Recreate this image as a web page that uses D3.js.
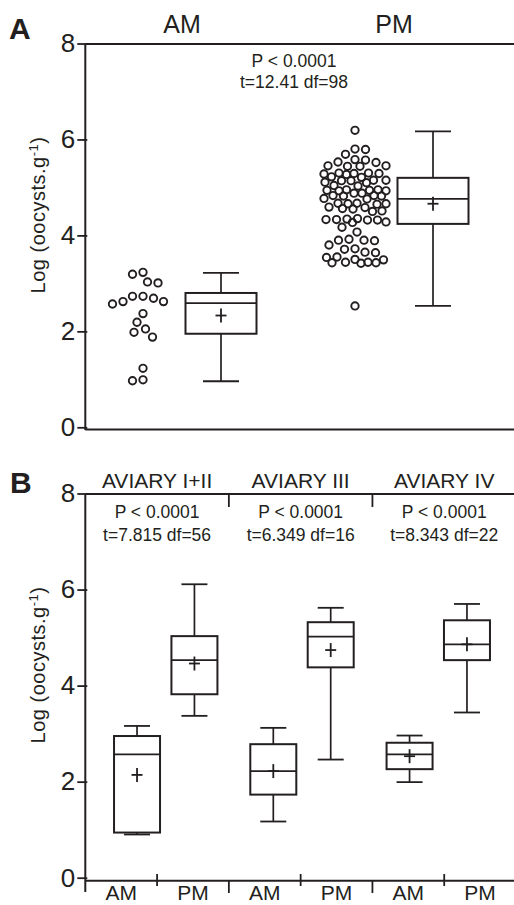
<!DOCTYPE html>
<html>
<head>
<meta charset="utf-8">
<script src="https://cdn.jsdelivr.net/npm/d3@7"></script>
<style>
  body { margin: 0; background: #fff; }
  svg { display: block; font-family: "Liberation Sans", Arial, sans-serif; }
</style>
</head>
<body>
<svg></svg>
<script>
// two stacked panels: A = all birds AM vs PM, B = per aviary

const width = 514;
const height = 905;
const ink = "#231f20";

const yTicks = [0, 2, 4, 6, 8];

// panel A
const sessions = ["AM", "PM"];
const amDots = [3.23, 3.19, 3.03, 3.01, 2.73, 2.62, 2.57, 2.62, 2.69, 2.73,
                2.37, 2.19, 2.05, 1.88, 1.98, 1.23, 0.97, 0.99];
const pmDots = [6.19, 5.80, 5.79, 5.69, 5.58, 5.57, 5.53, 5.52,
                5.45, 5.45, 5.44, 5.44, 5.30, 5.30, 5.29, 5.29, 5.28, 5.27,
                5.22, 5.21, 5.15, 5.15, 5.14, 5.14, 5.11, 5.10, 5.04, 5.03,
                4.95, 4.95, 4.94, 4.94, 4.93, 4.93, 4.88, 4.88,
                4.83, 4.83, 4.82, 4.82, 4.77, 4.76,
                4.67, 4.67, 4.66, 4.66, 4.65, 4.59, 4.58, 4.56, 4.55, 4.51, 4.50,
                4.35, 4.34, 4.33, 4.33, 4.32, 4.32, 4.28, 4.27, 4.17, 4.07,
                3.92, 3.90, 3.90, 3.89, 3.80, 3.72, 3.71, 3.65, 3.64,
                3.55, 3.54, 3.50, 3.49, 3.44, 3.44, 3.43, 3.43, 3.42, 2.53];
// box stats: min, q1, median, q3, max, mean
const boxA = [
  { key: "AM", min: 0.96, q1: 1.95, med: 2.59, q3: 2.80, max: 3.22, mean: 2.33 },
  { key: "PM", min: 2.53, q1: 4.24, med: 4.76, q3: 5.20, max: 6.17, mean: 4.66 }
];
const statA = ["P < 0.0001", "t=12.41 df=98"];

// panel B
const aviaries = ["AVIARY I+II", "AVIARY III", "AVIARY IV"];
const statP = ["P < 0.0001", "P < 0.0001", "P < 0.0001"];
const statT = ["t=7.815 df=56", "t=6.349 df=16", "t=8.343 df=22"];
const boxB = [
  { aviary: "AVIARY I+II", key: "AM", min: 0.90, q1: 0.94, med: 2.57, q3: 2.95, max: 3.16, mean: 2.14 },
  { aviary: "AVIARY I+II", key: "PM", min: 3.37, q1: 3.82, med: 4.53, q3: 5.03, max: 6.11, mean: 4.46 },
  { aviary: "AVIARY III",  key: "AM", min: 1.17, q1: 1.73, med: 2.22, q3: 2.78, max: 3.12, mean: 2.22 },
  { aviary: "AVIARY III",  key: "PM", min: 2.46, q1: 4.38, med: 5.02, q3: 5.32, max: 5.62, mean: 4.74 },
  { aviary: "AVIARY IV",   key: "AM", min: 1.99, q1: 2.26, med: 2.57, q3: 2.81, max: 2.96, mean: 2.53 },
  { aviary: "AVIARY IV",   key: "PM", min: 3.44, q1: 4.53, med: 4.86, q3: 5.36, max: 5.70, mean: 4.86 }
];

const svg = d3.select("svg")
    .attr("width", width)
    .attr("height", height);

const axisX = 85.3;

function yAxis(y, top, bottom, labelY) {
  const g = svg.append("g")
      .attr("transform", `translate(${axisX},0)`)
      .call(d3.axisLeft(y).tickValues(yTicks).tickFormat(d3.format("d"))
              .tickSize(8).tickSizeOuter(0).tickPadding(2));
  g.select(".domain").remove();
  g.selectAll(".tick line").attr("x1", 2).attr("stroke", ink).attr("stroke-width", 1.8);
  g.selectAll(".tick text")
      .attr("fill", ink)
      .style("font-size", "26px")
      .style("font-family", "'Liberation Sans', Arial, sans-serif");

  svg.append("line")
      .attr("x1", axisX).attr("x2", axisX)
      .attr("y1", top).attr("y2", bottom)
      .attr("stroke", ink).attr("stroke-width", 2);

  const t = svg.append("text")
      .attr("transform", `translate(45,${labelY}) rotate(-90)`)
      .attr("text-anchor", "middle")
      .attr("fill", ink)
      .style("font-size", "20px")
      .style("letter-spacing", "0.5px")
      .text("Log (oocysts.g");
  t.append("tspan").attr("dy", -7).style("font-size", "13px").text("-1");
  t.append("tspan").attr("dy", 7).text(")");
}

function hline(x1, x2, y) {
  svg.append("line")
      .attr("x1", x1).attr("x2", x2).attr("y1", y).attr("y2", y)
      .attr("stroke", ink).attr("stroke-width", 2);
}

function drawBoxes(data, xc, y, bw, cw) {
  const g = svg.append("g").attr("stroke", ink).attr("fill", "none");
  const b = g.selectAll("g").data(data).join("g");
  b.append("line")
      .attr("x1", d => xc(d)).attr("x2", d => xc(d))
      .attr("y1", d => y(d.max)).attr("y2", d => y(d.q3))
      .attr("stroke-width", 1.7);
  b.append("line")
      .attr("x1", d => xc(d)).attr("x2", d => xc(d))
      .attr("y1", d => y(d.q1)).attr("y2", d => y(d.min))
      .attr("stroke-width", 1.7);
  b.append("line")
      .attr("x1", d => xc(d) - cw / 2).attr("x2", d => xc(d) + cw / 2)
      .attr("y1", d => y(d.max)).attr("y2", d => y(d.max))
      .attr("stroke-width", 1.8);
  b.append("line")
      .attr("x1", d => xc(d) - cw / 2).attr("x2", d => xc(d) + cw / 2)
      .attr("y1", d => y(d.min)).attr("y2", d => y(d.min))
      .attr("stroke-width", 1.8);
  b.append("rect")
      .attr("x", d => xc(d) - bw / 2).attr("width", bw)
      .attr("y", d => y(d.q3)).attr("height", d => y(d.q1) - y(d.q3))
      .attr("stroke-width", 2);
  b.append("line")
      .attr("x1", d => xc(d) - bw / 2).attr("x2", d => xc(d) + bw / 2)
      .attr("y1", d => y(d.med)).attr("y2", d => y(d.med))
      .attr("stroke-width", 1.8);
  // mean as a plus
  b.append("line")
      .attr("x1", d => xc(d) - 5.5).attr("x2", d => xc(d) + 5.5)
      .attr("y1", d => y(d.mean)).attr("y2", d => y(d.mean))
      .attr("stroke-width", 1.8);
  b.append("line")
      .attr("x1", d => xc(d)).attr("x2", d => xc(d))
      .attr("y1", d => y(d.mean) - 7).attr("y2", d => y(d.mean) + 7)
      .attr("stroke-width", 1.8);
}

// simple beeswarm: nearest free spot to the centre line
function swarm(values, y, dist, maxOff) {
  const placed = [];
  const pts = values.map(v => ({ v: v, y: y(v) })).sort((a, b) => a.y - b.y);
  pts.forEach((p, i) => {
    let best = null, bestScore = -1;
    const sides = i % 2 ? [-1, 1] : [1, -1];
    for (let k = 0; k <= maxOff && best === null; k += 0.5) {
      for (const s of sides) {
        const x = k * s;
        let minD = Infinity;
        placed.forEach(q => {
          const dd = Math.hypot(q.dx - x, q.y - p.y);
          if (dd < minD) minD = dd;
        });
        if (minD >= dist) { best = x; break; }
        if (minD > bestScore) { bestScore = minD; p.fallback = x; }
      }
    }
    p.dx = best === null ? p.fallback : best;
    placed.push(p);
  });
  return pts;
}

// ---------- panel A ----------
const yA = d3.scaleLinear().domain([0, 8]).range([427.3, 43.5]);
const xA = d3.scaleBand().domain(sessions).range([76, 500]);
const offA = 39;

yAxis(yA, 44, 430, 215);
hline(axisX, width, 44);
hline(axisX, width, 429.5);

svg.append("text").attr("x", 9).attr("y", 39)
    .attr("fill", ink).style("font-size", "30px").style("font-weight", "bold").text("A");

svg.selectAll(".sessA").data(sessions).join("text")
    .attr("x", d => xA(d) + xA.bandwidth() / 2)
    .attr("y", 33)
    .attr("text-anchor", "middle").attr("fill", ink)
    .style("font-size", "25px")
    .text(d => d);

svg.selectAll(".statA").data(statA).join("text")
    .attr("x", 294)
    .attr("y", (d, i) => 66.7 + i * 21.6)
    .attr("text-anchor", "middle").attr("fill", ink)
    .style("font-size", "17.5px")
    .text(d => d);

const dotSets = [amDots, pmDots];
sessions.forEach((s, i) => {
  const cx = xA(s) + xA.bandwidth() / 2 - offA;
  svg.append("g").selectAll("circle")
      .data(swarm(dotSets[i], yA, 10.5, 31))
      .join("circle")
      .attr("cx", d => cx + d.dx)
      .attr("cy", d => d.y)
      .attr("r", 3.7)
      .attr("fill", "none")
      .attr("stroke", ink)
      .attr("stroke-width", 1.9);
});

drawBoxes(boxA, d => xA(d.key) + xA.bandwidth() / 2 + offA, yA, 71, 36);

// ---------- panel B ----------
const yB = d3.scaleLinear().domain([0, 8]).range([877.7, 493.5]);
const xB = d3.scaleBand().domain(aviaries).range([axisX, 516]);
const xSub = d3.scaleBand().domain(sessions).range([0, xB.bandwidth()]);
// the boxes sit on a slightly narrower grid than the axis
const xBoxB = d3.scaleBand().domain(aviaries).range([97.6, 506.4]);
const offB = 28.7;

yAxis(yB, 494, 892, 665);
hline(axisX, width, 494);
hline(axisX, width, 880.7);

svg.append("text").attr("x", 10).attr("y", 493)
    .attr("fill", ink).style("font-size", "30px").style("font-weight", "bold").text("B");

svg.selectAll(".avLab").data(aviaries).join("text")
    .attr("x", d => xB(d) + xB.bandwidth() / 2)
    .attr("y", 488)
    .attr("text-anchor", "middle").attr("fill", ink)
    .style("font-size", "21px")
    .text(d => d);

svg.selectAll(".pB").data(statP).join("text")
    .attr("x", (d, i) => xB(aviaries[i]) + xB.bandwidth() / 2)
    .attr("y", 518.3)
    .attr("text-anchor", "middle").attr("fill", ink)
    .style("font-size", "17.5px")
    .text(d => d);

svg.selectAll(".tB").data(statT).join("text")
    .attr("x", (d, i) => xB(aviaries[i]) + xB.bandwidth() / 2)
    .attr("y", 540.7)
    .attr("text-anchor", "middle").attr("fill", ink)
    .style("font-size", "17.5px")
    .text(d => d);

// dividers between aviaries, top and bottom
const inner = aviaries.slice(1);
svg.append("g").selectAll("line").data(inner).join("line")
    .attr("x1", d => xB(d)).attr("x2", d => xB(d))
    .attr("y1", 494).attr("y2", 507)
    .attr("stroke", ink).attr("stroke-width", 1.8);
svg.append("g").selectAll("line").data(inner).join("line")
    .attr("x1", d => xB(d)).attr("x2", d => xB(d))
    .attr("y1", 880.7).attr("y2", 893)
    .attr("stroke", ink).attr("stroke-width", 1.8);
svg.append("g").selectAll("line").data(aviaries).join("line")
    .attr("x1", d => xB(d) + xB.bandwidth() / 2).attr("x2", d => xB(d) + xB.bandwidth() / 2)
    .attr("y1", 874).attr("y2", 886)
    .attr("stroke", ink).attr("stroke-width", 1.8);

const subLabels = aviaries.flatMap(a => sessions.map(s => ({ a: a, s: s })));
svg.append("g").selectAll("text").data(subLabels).join("text")
    .attr("x", d => xB(d.a) + xSub(d.s) + xSub.bandwidth() / 2)
    .attr("y", 900)
    .attr("text-anchor", "middle").attr("fill", ink)
    .style("font-size", "21px")
    .text(d => d.s);

drawBoxes(boxB,
    d => xBoxB(d.aviary) + xBoxB.bandwidth() / 2 + (d.key === "AM" ? -offB : offB),
    yB, 46, 26);
</script>
</body>
</html>
